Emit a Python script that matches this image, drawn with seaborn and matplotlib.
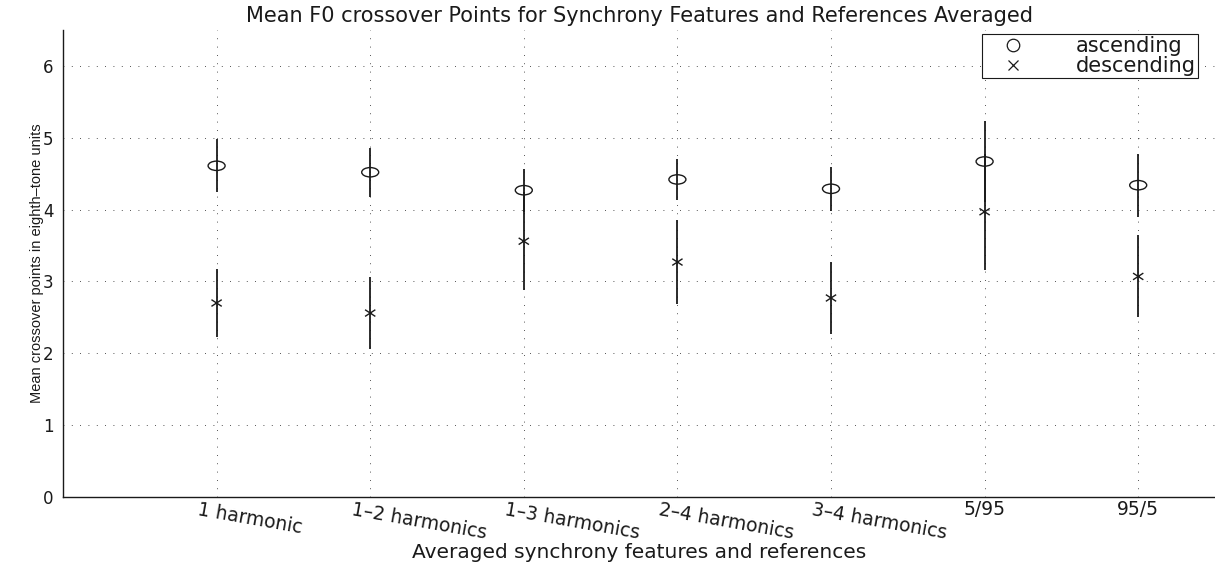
import numpy as np
import pandas as pd
import matplotlib
matplotlib.use("Agg")
import matplotlib.pyplot as plt
import matplotlib.transforms as mtransforms
from matplotlib.path import Path
from matplotlib.lines import Line2D
import seaborn as sns

# ---- data ----
categories = ["1 harmonic", "1\u20132 harmonics", "1\u20133 harmonics", "2\u20134 harmonics",
              "3\u20134 harmonics", "5/95", "95/5"]
asc_mean = [4.61, 4.52, 4.27, 4.42, 4.29, 4.67, 4.34]
asc_err = [0.37, 0.34, 0.30, 0.29, 0.31, 0.56, 0.44]
desc_mean = [2.70, 2.56, 3.56, 3.27, 2.77, 3.97, 3.07]
desc_err = [0.47, 0.50, 0.68, 0.59, 0.50, 0.81, 0.57]
yticks = [0, 1, 2, 3, 4, 5, 6]

sns.set_theme(style="white")
plt.rcParams["font.family"] = ["DejaVu Sans"]

pos = np.arange(1, len(categories) + 1)
df = pd.DataFrame({
    "pos": np.concatenate([pos, pos]),
    "mean": asc_mean + desc_mean,
    "err": asc_err + desc_err,
    "direction": ["ascending"] * len(pos) + ["descending"] * len(pos),
})

fig = plt.figure(figsize=(12.15, 5.65), dpi=100)
ax = fig.add_axes([63 / 1215, 68 / 565, 1152 / 1215, 467 / 565])

# grid
for y in yticks:
    ax.axhline(y, color="k", lw=0.6, ls=(0, (1, 9)), zorder=0)
for x in pos:
    ax.axvline(x, color="k", lw=0.6, ls=(0, (1, 9)), zorder=0)

# error bars
for d in ["ascending", "descending"]:
    sub = df[df.direction == d]
    ax.errorbar(sub["pos"], sub["mean"], yerr=sub["err"], fmt="none",
                ecolor="k", elinewidth=1.3, capsize=0, zorder=2)

# markers (slightly wide, as in the reference)
circ = Path.unit_circle()
ellipse = Path(circ.vertices * np.array([1.0, 0.55]), circ.codes)
xmark = Path([(-1, -0.65), (1, 0.65), (-1, 0.65), (1, -0.65)],
             [Path.MOVETO, Path.LINETO, Path.MOVETO, Path.LINETO])

sns.scatterplot(data=df[df.direction == "ascending"], x="pos", y="mean", marker=ellipse,
                s=150, facecolor="none", edgecolor="k", linewidth=1.0, ax=ax, zorder=3,
                legend=False)
sns.scatterplot(data=df[df.direction == "descending"], x="pos", y="mean", marker=xmark,
                s=55, facecolor="none", edgecolor="k", linewidth=1.0, ax=ax, zorder=3,
                legend=False)

ax.set_xlim(0, 7.5)
ax.set_ylim(0, 6.5)
ax.set_yticks(yticks)
ax.set_yticklabels([str(v) for v in yticks], fontsize=12)
ax.set_xticks(pos)
ax.set_xticklabels(categories, fontsize=13.5)

for sp in ["top", "right"]:
    ax.spines[sp].set_visible(False)
for sp in ["left", "bottom"]:
    ax.spines[sp].set_color("k")
    ax.spines[sp].set_linewidth(1.0)

ax.tick_params(axis="x", direction="in", length=5, width=0.8, color="k", pad=2, labelcolor="k")
ax.tick_params(axis="y", direction="in", length=9.5, width=0.8, color="k", pad=7, labelcolor="k")

shift = mtransforms.ScaledTranslation(-17 / 100, 0, fig.dpi_scale_trans)
for i, lbl in enumerate(ax.get_xticklabels()):
    if i < 5:
        lbl.set_rotation(-10)
        lbl.set_rotation_mode("anchor")
        lbl.set_ha("left")
        lbl.set_va("top")
        lbl.set_transform(lbl.get_transform() + shift)
    else:
        lbl.set_rotation(0)
        lbl.set_ha("center")

ax.set_title("Mean F0 crossover Points for Synchrony Features and References Averaged",
             fontsize=15, color="k", pad=6)
ax.set_xlabel("Averaged synchrony features and references", fontsize=14.5, color="k")
ax.xaxis.set_label_coords(0.5, -(543 - 497) / 467)
ax.set_ylabel("Mean crossover points in eighth\u2013tone units", fontsize=10.5, color="k",
              family=["Liberation Sans Narrow", "Liberation Sans", "DejaVu Sans"])
ax.yaxis.set_label_coords(-(63 - 44) / 1152, 0.5)

handles = [Line2D([], [], ls="none", marker="o", mfc="none", mec="k", ms=9, mew=0.9),
           Line2D([], [], ls="none", marker="x", mec="k", ms=7, mew=0.9)]
leg = ax.legend(handles, ["ascending", "descending"], loc="upper right",
                bbox_to_anchor=(1198 / 1215, 531 / 565), bbox_transform=fig.transFigure,
                fontsize=15, frameon=True, fancybox=False, edgecolor="k", framealpha=1,
                facecolor="white", borderpad=0.1, labelspacing=0.0, handletextpad=1.6,
                handlelength=2.8, borderaxespad=0)
leg.get_frame().set_linewidth(0.8)
leg.set_zorder(5)
for t in leg.get_texts():
    t.set_color("k")

fig.savefig("out.png", dpi=100)
